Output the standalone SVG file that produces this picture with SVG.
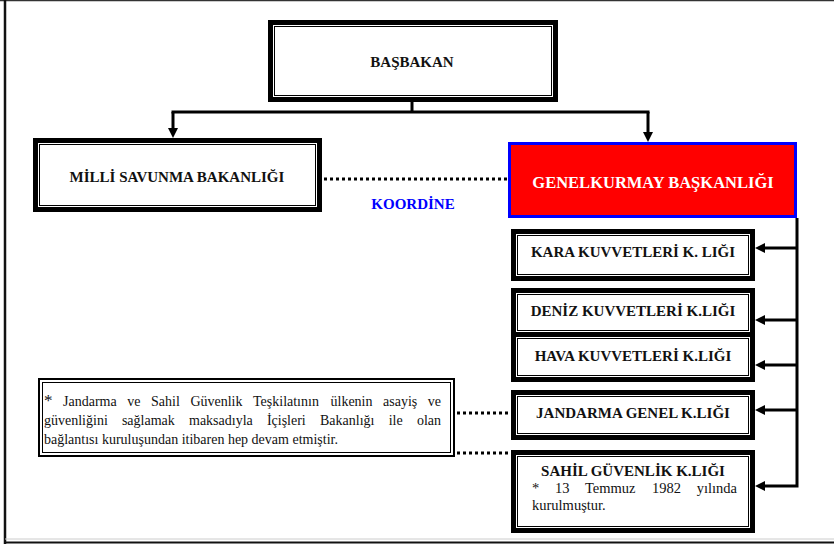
<svg xmlns="http://www.w3.org/2000/svg" width="834" height="546" viewBox="0 0 834 546">
<style>
.ob{fill:#fff;stroke:#000;stroke-width:5}
.ib{fill:none;stroke:#000;stroke-width:1}
.t{font-family:"Liberation Serif","Times New Roman",serif;font-weight:bold;font-size:15px;fill:#111;text-anchor:middle}
.n{font-family:"Liberation Serif","Times New Roman",serif;font-size:14px;fill:#111}
.c{fill:none;stroke:#000;stroke-width:3}
.d{fill:none;stroke:#000;stroke-width:3;stroke-dasharray:3 3}
</style>
<defs>
<marker id="ah" viewBox="0 0 10 10" refX="0" refY="5" markerWidth="10" markerHeight="10" markerUnits="userSpaceOnUse" orient="auto">
<path d="M0,0 L10,5 L0,10 z" fill="#000"/>
</marker>
</defs>
<rect width="834" height="546" fill="#fff"/>
<g id="frame">
<line x1="0" y1="0.5" x2="834" y2="0.5" stroke="#333" stroke-width="1.5"/>
<line x1="5" y1="0" x2="5" y2="544" stroke="#111" stroke-width="2.5"/>
<line x1="5" y1="539" x2="834" y2="539" stroke="#ccc" stroke-width="1"/>
<line x1="5" y1="542.5" x2="834" y2="542.5" stroke="#111" stroke-width="2"/>
</g>
<g id="connectors">
<path class="c" d="M412,102 V112"/>
<path class="c" d="M171.5,112 H649.5"/>
<path class="c" d="M173,112 V128" marker-end="url(#ah)"/>
<path class="c" d="M648,112 V132" marker-end="url(#ah)"/>
<path class="c" d="M797,218 V486 H765" marker-end="url(#ah)"/>
<path class="c" d="M797,248 H765" marker-end="url(#ah)"/>
<path class="c" d="M797,320 H765" marker-end="url(#ah)"/>
<path class="c" d="M797,365 H765" marker-end="url(#ah)"/>
<path class="c" d="M797,410 H765" marker-end="url(#ah)"/>
<path class="d" d="M324,179 H508"/>
<path class="d" d="M457,413 H511"/>
<path class="d" d="M457,453 H511"/>
<text x="413" y="209" class="t" style="fill:#0000ff">KOORDİNE</text>
</g>
<g id="basbakan">
<rect class="ob" x="270.5" y="22.5" width="285" height="77"/>
<rect class="ib" x="274.5" y="26.5" width="277" height="69"/>
<text x="412" y="67" class="t">BAŞBAKAN</text>
</g>
<g id="msb">
<rect class="ob" x="35.5" y="140.5" width="284" height="69"/>
<rect class="ib" x="39.5" y="144.5" width="276" height="61"/>
<text x="177" y="182" class="t">MİLLİ SAVUNMA BAKANLIĞI</text>
</g>
<g id="gkb">
<rect x="509.5" y="143.5" width="286" height="73" fill="#ff0000" stroke="#0000ff" stroke-width="3"/>
<text x="653" y="188" class="t" style="fill:#fff;font-size:16.5px">GENELKURMAY BAŞKANLIĞI</text>
</g>
<g id="kara">
<rect class="ob" x="513.5" y="231.5" width="239" height="47"/>
<rect class="ib" x="517.5" y="235.5" width="231" height="39"/>
<text x="633" y="257" class="t">KARA KUVVETLERİ K. LIĞI</text>
</g>
<g id="deniz">
<rect class="ob" x="513.5" y="290.5" width="239" height="44"/>
<rect class="ib" x="517.5" y="294.5" width="231" height="36"/>
<text x="633" y="316" class="t">DENİZ KUVVETLERİ K.LIĞI</text>
</g>
<g id="hava">
<rect class="ob" x="513.5" y="334.5" width="239" height="45"/>
<rect class="ib" x="517.5" y="338.5" width="231" height="37"/>
<text x="633" y="361" class="t">HAVA KUVVETLERİ K.LIĞI</text>
</g>
<g id="jandarma">
<rect class="ob" x="513.5" y="392.5" width="239" height="45"/>
<rect class="ib" x="517.5" y="396.5" width="231" height="37"/>
<text x="633" y="418" class="t">JANDARMA GENEL K.LIĞI</text>
</g>
<g id="sahil">
<rect class="ob" x="513.5" y="452.5" width="239" height="78"/>
<rect class="ib" x="517.5" y="456.5" width="231" height="70"/>
<text x="633" y="476" class="t">SAHİL GÜVENLİK K.LIĞI</text>
<text y="493" class="n" style="font-size:14.5px"><tspan x="532">*</tspan><tspan x="554.9">13</tspan><tspan x="585">Temmuz</tspan><tspan x="652">1982</tspan><tspan x="696.7">yılında</tspan></text>
<text x="532" y="510" class="n" style="font-size:14.5px">kurulmuştur.</text>
</g>
<g id="note">
<rect x="39" y="379" width="415" height="77" fill="#fff" stroke="#000" stroke-width="2"/>
<rect x="42.5" y="382.5" width="408" height="70" fill="none" stroke="#000" stroke-width="1"/>
<text y="406" class="n"><tspan x="44" font-size="17">*</tspan><tspan x="63">Jandarma</tspan><tspan x="127.3">ve</tspan><tspan x="151">Sahil</tspan><tspan x="190.4">Güvenlik</tspan><tspan x="253">Teşkilatının</tspan><tspan x="330.5">ülkenin</tspan><tspan x="383">asayiş</tspan><tspan x="427.8">ve</tspan></text>
<text y="425" class="n"><tspan x="44">güvenliğini</tspan><tspan x="121.9">sağlamak</tspan><tspan x="189">maksadıyla</tspan><tspan x="266.9">İçişleri</tspan><tspan x="320">Bakanlığı</tspan><tspan x="388.7">ile</tspan><tspan x="416.9">olan</tspan></text>
<text x="44" y="444" class="n">bağlantısı kuruluşundan itibaren hep devam etmiştir.</text>
</g>
</svg>
